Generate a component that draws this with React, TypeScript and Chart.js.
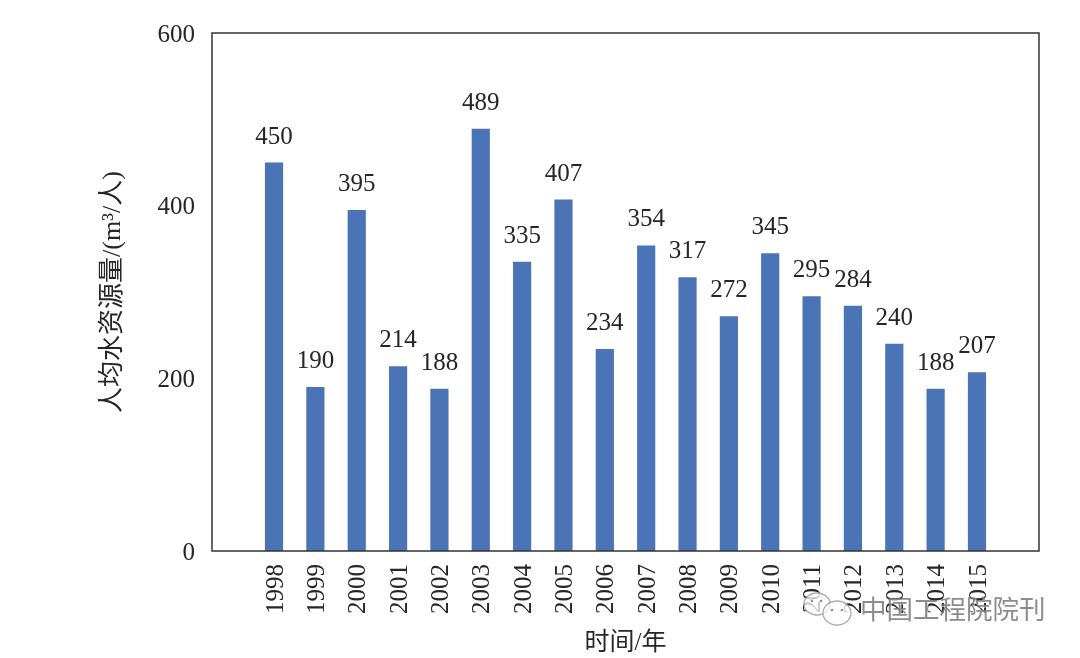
import React, { useEffect, useRef } from "react";
import { Chart, registerables } from "chart.js";

Chart.register(...registerables);

const years = ["", "1998", "1999", "2000", "2001", "2002", "2003", "2004", "2005", "2006", "2007", "2008", "2009", "2010", "2011", "2012", "2013", "2014", "2015", ""];
const waterPerCapita = [null, 450, 190, 395, 214, 188, 489, 335, 407, 234, 354, 317, 272, 345, 295, 284, 240, 188, 207, null];
const yTicks = [0, 200, 400, 600];
const yTitle = "人均水资源量/(m³/人)";
const xTitle = "时间/年";
const watermark = "中国工程院院刊";

const FONT = '"Liberation Serif", "Noto Sans CJK SC", serif';
const TEXT = "#262626";
const BAR = "#4b74b6";

const decorations = {
  id: "decorations",
  afterDatasetsDraw(chart: any) {
    const { ctx, chartArea: a } = chart;
    ctx.save();
    ctx.strokeStyle = "#333";
    ctx.lineWidth = 1.5;
    ctx.strokeRect(a.left, a.top, a.right - a.left, a.bottom - a.top);

    const meta = chart.getDatasetMeta(0);
    ctx.fillStyle = TEXT;
    ctx.font = `25px ${FONT}`;
    ctx.textAlign = "center";
    ctx.textBaseline = "bottom";
    meta.data.forEach((bar: any, i: number) => {
      const v = waterPerCapita[i];
      if (v == null) return;
      ctx.fillText(String(v), bar.x, bar.y - 13);
    });
    ctx.restore();
  },
  afterDraw(chart: any) {
    const { ctx } = chart;
    ctx.save();
    ctx.font = `26.5px "Noto Sans CJK SC", sans-serif`;
    ctx.textAlign = "left";
    ctx.textBaseline = "middle";
    ctx.fillStyle = "rgba(255,255,255,0.55)";
    ctx.fillText(watermark, 861, 610);
    ctx.fillStyle = "rgba(120,120,120,0.85)";
    ctx.fillText(watermark, 860, 609);

    ctx.strokeStyle = "rgba(150,150,150,0.8)";
    ctx.fillStyle = "rgba(255,255,255,0.75)";
    ctx.lineWidth = 1.3;
    ctx.beginPath();
    ctx.ellipse(817, 604, 13, 11, 0, 0, Math.PI * 2);
    ctx.fill();
    ctx.stroke();
    ctx.beginPath();
    ctx.ellipse(837, 613, 14, 12, 0, 0, Math.PI * 2);
    ctx.fill();
    ctx.stroke();
    ctx.fillStyle = "rgba(130,130,130,0.9)";
    [[812, 601], [821, 601], [832, 610], [842, 610]].forEach(([x, y]) => {
      ctx.beginPath();
      ctx.arc(x, y, 1.3, 0, Math.PI * 2);
      ctx.fill();
    });
    ctx.restore();
  },
};

export default function App() {
  const ref = useRef<HTMLCanvasElement>(null);

  useEffect(() => {
    document.body.style.margin = "0";
    const chart = new Chart(ref.current!, {
      type: "bar",
      data: {
        labels: years,
        datasets: [
          {
            data: waterPerCapita,
            backgroundColor: BAR,
            barPercentage: 0.44,
            categoryPercentage: 1,
          },
        ],
      },
      plugins: [decorations],
      options: {
        animation: false,
        responsive: false,
        layout: { padding: { left: 0, top: 33, right: 41, bottom: 0 } },
        plugins: { legend: { display: false }, tooltip: { enabled: false } },
        scales: {
          x: {
            grid: { display: false },
            border: { display: false },
            ticks: {
              color: TEXT,
              font: { family: FONT, size: 25 },
              autoSkip: false,
              maxRotation: 90,
              minRotation: 90,
              padding: 5,
              labelOffset: 2,
            },
            title: {
              display: true,
              text: xTitle,
              color: TEXT,
              font: { family: FONT, size: 25 },
              padding: 0,
            },
            afterFit: (s: any) => {
              s.height = 107;
            },
          },
          y: {
            min: 0,
            max: 600,
            afterBuildTicks: (s: any) => {
              s.ticks = yTicks.map((value) => ({ value }));
            },
            grid: { display: false },
            border: { display: false },
            ticks: {
              color: TEXT,
              font: { family: FONT, size: 25 },
              padding: 9,
              labelOffset: 2,
            },
            title: {
              display: true,
              text: yTitle,
              color: TEXT,
              font: { family: FONT, size: 26 },
              padding: { top: 98, bottom: 0 },
            },
            afterFit: (s: any) => {
              s.width = 212;
            },
          },
        },
      },
    });
    return () => chart.destroy();
  }, []);

  return <canvas ref={ref} width={1080} height={658} style={{ display: "block" }} />;
}
